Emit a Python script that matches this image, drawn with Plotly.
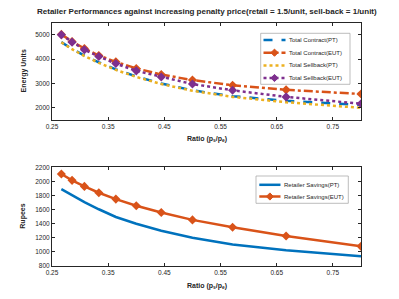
import plotly.graph_objects as go

ratio = [4/15, 4/14, 4/13, 4/12, 4/11, 4/10, 4/9, 4/8, 4/7, 4/6, 4/5]
contract_pt = [4700, 4420, 4150, 3870, 3580, 3290, 3000, 2720, 2480, 2290, 2120]
contract_eut = [5020, 4730, 4440, 4150, 3890, 3620, 3370, 3140, 2930, 2740, 2570]
sellback_pt = [4690, 4410, 4130, 3850, 3560, 3270, 2980, 2700, 2450, 2230, 2000]
sellback_eut = [5000, 4700, 4390, 4110, 3820, 3520, 3270, 2980, 2720, 2450, 2170]
savings_pt = [1890, 1800, 1705, 1605, 1495, 1400, 1300, 1200, 1105, 1025, 940]
savings_eut = [2105, 2015, 1929, 1839, 1749, 1654, 1559, 1454, 1350, 1226, 1079]
xticks = [0.25, 0.35, 0.45, 0.55, 0.65, 0.75]

BLUE = "#0072BD"; ORANGE = "#D95319"; YELLOW = "#EDB120"; PURPLE = "#7E2F8E"
AX = "#262626"
FONT = "Liberation Sans, Arial, sans-serif"
W, H = 399, 299

def px(x):
    return x / W

def py(y):
    return 1 - y / H

fig = go.Figure()
mk = dict(symbol="diamond", size=7)
series = [
    ("Total Contract(PT)", contract_pt, BLUE, "dash", False, 1),
    ("Total Contract(EUT)", contract_eut, ORANGE, "dashdot", True, 1),
    ("Total Sellback(PT)", sellback_pt, YELLOW, "dot", False, 1),
    ("Total Sellback(EUT)", sellback_eut, PURPLE, "dot", True, 1),
    ("Retailer Savings(PT)", savings_pt, BLUE, "solid", False, 2),
    ("Retailer Savings(EUT)", savings_eut, ORANGE, "solid", True, 2),
]
for name, vals, col, dash, marks, ax in series:
    fig.add_trace(go.Scatter(
        x=ratio, y=vals, name=name, mode="lines+markers" if marks else "lines",
        line=dict(color=col, width=2.5, dash=dash),
        marker=dict(color=col, **mk),
        xaxis="x" if ax == 1 else "x2", yaxis="y" if ax == 1 else "y2",
        showlegend=False))

axcommon = dict(showline=True, linecolor=AX, linewidth=1, mirror="ticks", ticks="inside",
                ticklen=3, tickcolor=AX, showgrid=False, zeroline=False, automargin=False,
                tickfont=dict(size=6.5, color=AX, family=FONT))
xdom = [px(52), px(361)]

shapes = []
annotations = []

def legend_box(x0, x1, y0, y1, rows, lx0, lx1, tx):
    shapes.append(dict(type="rect", xref="paper", yref="paper", x0=px(x0), x1=px(x1),
                       y0=py(y1), y1=py(y0), line=dict(color="#A0A0A0", width=0.7),
                       fillcolor="white", layer="above"))
    for (name, vals, col, dash, marks, ax), yy in rows:
        shapes.append(dict(type="line", xref="paper", yref="paper", x0=px(lx0), x1=px(lx1),
                           y0=py(yy), y1=py(yy), line=dict(color=col, width=2.5, dash=dash),
                           layer="above"))
        if marks:
            cx = (lx0 + lx1) / 2
            r = 3.6
            path = (f"M {px(cx - r)},{py(yy)} L {px(cx)},{py(yy - r)} L {px(cx + r)},{py(yy)} "
                    f"L {px(cx)},{py(yy + r)} Z")
            shapes.append(dict(type="path", xref="paper", yref="paper", path=path,
                               fillcolor=col, line=dict(color=col, width=1), layer="above"))
        annotations.append(dict(text=name, x=px(tx), y=py(yy), xref="paper", yref="paper",
                                xanchor="left", yanchor="middle", showarrow=False,
                                font=dict(size=6, color=AX, family=FONT)))

legend_box(260.7, 350, 33.3, 84.3, list(zip(series[:4], [40, 52.7, 65.4, 78])), 263.5, 285.5, 287)
legend_box(256, 348.3, 176, 203.3, list(zip(series[4:], [184.8, 196.5])), 259.3, 280.5, 282)

annotations.append(dict(
    text="<b>Retailer Performances against increasing penalty price(retail = 1.5/unit, sell-back = 1/unit)</b>",
    x=px(206.5), y=py(12), xref="paper", yref="paper", xanchor="center", yanchor="middle",
    showarrow=False, font=dict(size=8, color=AX, family=FONT)))
for yc in (138.5, 285.5):
    annotations.append(dict(text="<b>Ratio (p<sub>s</sub>/p<sub>e</sub>)</b>", x=px(207), y=py(yc),
                            xref="paper", yref="paper", xanchor="center", yanchor="middle",
                            showarrow=False, font=dict(size=7, color=AX, family=FONT)))
annotations.append(dict(text="<b>Energy Units</b>", x=px(24), y=py(71.4), textangle=-90,
                        xref="paper", yref="paper", xanchor="center", yanchor="middle",
                        showarrow=False, font=dict(size=7, color=AX, family=FONT)))
annotations.append(dict(text="<b>Rupees</b>", x=px(23), y=py(216.7), textangle=-90,
                        xref="paper", yref="paper", xanchor="center", yanchor="middle",
                        showarrow=False, font=dict(size=7, color=AX, family=FONT)))

fig.update_layout(
    width=W, height=H, margin=dict(l=0, r=0, t=0, b=0, pad=0, autoexpand=False),
    paper_bgcolor="white", plot_bgcolor="white",
    font=dict(family=FONT, color=AX),
    showlegend=False,
    xaxis=dict(domain=xdom, range=[0.25, 0.8], tickvals=xticks, tickformat=".2f", anchor="y", **axcommon),
    yaxis=dict(domain=[py(120), py(22.7)], range=[1500, 5500], tickvals=[2000, 3000, 4000, 5000],
               anchor="x", **axcommon),
    xaxis2=dict(domain=xdom, range=[0.25, 0.8], tickvals=xticks, tickformat=".2f", anchor="y2", **axcommon),
    yaxis2=dict(domain=[py(266), py(167.3)], range=[800, 2200], dtick=200, anchor="x2", **axcommon),
    shapes=shapes,
    annotations=annotations,
)

fig.write_html("out.html", config={"displayModeBar": False},
               post_script="document.body.style.margin='0';document.body.style.overflow='hidden';")
